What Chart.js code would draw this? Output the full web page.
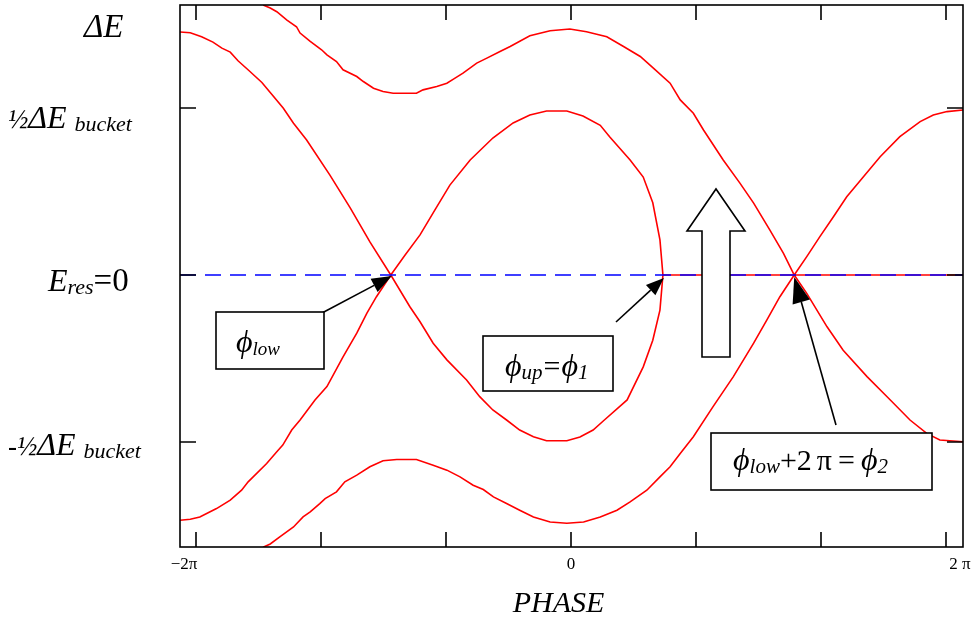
<!DOCTYPE html>
<html>
<head>
<meta charset="utf-8">
<script src="https://cdn.jsdelivr.net/npm/chart.js@4"></script>
<style>
html, body { margin: 0; padding: 0; background: #fff; overflow: hidden; }
</style>
</head>
<body>
<canvas id="chart" width="978" height="618"></canvas>
<script>
const PI = Math.PI;

// axis ranges: phase in radians, energy offset in units of ΔE_bucket
const phaseMin = -6.552, phaseMax = 6.568;
const dEMin = -0.814, dEMax = 0.808;

const xTicks = [-2 * PI, -4 * PI / 3, -2 * PI / 3, 0, 2 * PI / 3, 4 * PI / 3, 2 * PI];
const xTickLabels = ['−2π', '', '', '0', '', '', '2 π'];
const yTicks = [0.5, 0, -0.5];

// separatrix loop through phi_low, closing at phi_up
const loopPhase = [-6.55, -6.38, -6.19, -6.00, -5.85, -5.71, -5.58, -5.38, -5.18, -5.04, -4.82, -4.65, -4.43, -4.04, -3.70, -3.37, -3.02, -2.70, -2.53, -2.31, -2.08, -1.75, -1.53, -1.31, -1.08, -0.86, -0.63, -0.41, -0.07, 0.15, 0.37, 0.54, 0.94, 1.21, 1.37, 1.49, 1.54, 1.49, 1.37, 1.21, 0.99, 0.65, 0.49, 0.20, -0.07, -0.41, -0.69, -0.97, -1.31, -1.69, -2.03, -2.28, -2.53, -2.78, -3.02, -3.26, -3.42, -3.59, -3.82, -4.09, -4.29, -4.54, -4.68, -4.83, -4.93, -5.10, -5.41, -5.52, -5.71, -5.94, -6.22, -6.38, -6.55];
const loopDE = [0.727, 0.725, 0.713, 0.697, 0.679, 0.667, 0.641, 0.609, 0.576, 0.546, 0.499, 0.454, 0.404, 0.299, 0.201, 0.099, 0, -0.095, -0.140, -0.204, -0.254, -0.314, -0.364, -0.404, -0.434, -0.464, -0.484, -0.496, -0.496, -0.485, -0.464, -0.437, -0.374, -0.275, -0.195, -0.105, 0, 0.105, 0.216, 0.293, 0.344, 0.413, 0.448, 0.476, 0.491, 0.491, 0.479, 0.455, 0.410, 0.344, 0.269, 0.195, 0.120, 0.060, 0, -0.065, -0.114, -0.174, -0.245, -0.334, -0.374, -0.434, -0.464, -0.509, -0.529, -0.564, -0.619, -0.644, -0.674, -0.699, -0.724, -0.731, -0.734];

// outer upper trajectory
const upperPhase = [-5.16, -5.04, -4.93, -4.76, -4.60, -4.54, -4.37, -4.18, -4.09, -3.93, -3.82, -3.59, -3.48, -3.31, -3.15, -2.98, -2.59, -2.48, -2.25, -2.08, -1.97, -1.81, -1.58, -1.41, -1.19, -1.02, -0.69, -0.35, -0.02, 0.26, 0.60, 0.88, 1.16, 1.38, 1.66, 1.83, 2.05, 2.22, 2.33, 2.55, 2.83, 3.06, 3.33, 3.56, 3.74, 3.95, 4.29, 4.56, 4.96, 5.35, 5.68, 5.96, 6.18, 6.57, 6.80];
const upperDE = [0.808, 0.799, 0.788, 0.763, 0.743, 0.724, 0.699, 0.674, 0.659, 0.639, 0.614, 0.594, 0.579, 0.559, 0.549, 0.544, 0.544, 0.554, 0.564, 0.574, 0.586, 0.604, 0.634, 0.649, 0.669, 0.684, 0.716, 0.731, 0.736, 0.728, 0.713, 0.684, 0.654, 0.619, 0.574, 0.524, 0.484, 0.434, 0.404, 0.344, 0.275, 0.215, 0.135, 0.065, 0, -0.055, -0.155, -0.225, -0.304, -0.374, -0.434, -0.474, -0.494, -0.499, -0.492];

// outer lower trajectory
const lowerPhase = [-5.16, -5.04, -4.88, -4.65, -4.49, -4.37, -4.21, -4.12, -3.93, -3.79, -3.59, -3.37, -3.15, -2.92, -2.59, -2.31, -2.08, -1.86, -1.64, -1.47, -1.30, -1.08, -0.86, -0.63, -0.35, -0.07, 0.21, 0.49, 0.77, 0.99, 1.27, 1.49, 1.66, 1.83, 2.05, 2.38, 2.72, 3.06, 3.28, 3.50, 3.74, 3.95, 4.17, 4.40, 4.62, 4.90, 5.18, 5.51, 5.85, 6.07, 6.30, 6.57, 6.80];
const lowerDE = [-0.815, -0.805, -0.784, -0.754, -0.724, -0.709, -0.684, -0.669, -0.649, -0.619, -0.599, -0.574, -0.556, -0.552, -0.552, -0.569, -0.584, -0.604, -0.629, -0.642, -0.664, -0.684, -0.704, -0.724, -0.739, -0.743, -0.739, -0.724, -0.704, -0.679, -0.644, -0.604, -0.574, -0.534, -0.484, -0.394, -0.304, -0.204, -0.135, -0.065, 0, 0.055, 0.115, 0.175, 0.234, 0.294, 0.354, 0.414, 0.459, 0.479, 0.489, 0.494, 0.484];

// flat red segment on E_res from phi_up to the right edge
const flatPhase = [1.54, 6.57];
const flatDE = [0, 0];

// dashed E_res = 0 reference
const resPhase = [phaseMin, phaseMax];
const resDE = [0, 0];

// marked phases (arrow targets)
const phiLow = -3.02, phiUp = 1.54, phi2 = 3.74;

const pts = (xs, ys) => xs.map((x, i) => ({ x: x, y: ys[i] }));

const SERIF = "'Liberation Serif', 'DejaVu Serif', serif";

// draw a run of text pieces with mixed fonts
function textRun(ctx, x, y, parts) {
    parts.forEach(p => {
        ctx.font = p.f;
        ctx.fillText(p.t, x, y + (p.dy || 0));
        x += ctx.measureText(p.t).width + (p.gap || 0);
    });
    return x;
}

function arrow(ctx, x0, y0, x1, y1, len, w) {
    const a = Math.atan2(y1 - y0, x1 - x0);
    const bx = x1 - len * Math.cos(a), by = y1 - len * Math.sin(a);
    ctx.beginPath();
    ctx.moveTo(x0, y0);
    ctx.lineTo(bx, by);
    ctx.stroke();
    ctx.beginPath();
    ctx.moveTo(x1, y1);
    ctx.lineTo(bx + w / 2 * Math.sin(a), by - w / 2 * Math.cos(a));
    ctx.lineTo(bx - w / 2 * Math.sin(a), by + w / 2 * Math.cos(a));
    ctx.closePath();
    ctx.fill();
}

function box(ctx, l, t, r, b) {
    ctx.fillStyle = '#fff';
    ctx.fillRect(l, t, r - l, b - t);
    ctx.strokeRect(l, t, r - l, b - t);
    ctx.fillStyle = '#000';
}

const decor = {
    id: 'decor',
    afterDatasetsDraw(chart) {
        const { ctx, chartArea: a, scales: { x, y } } = chart;
        ctx.save();
        ctx.strokeStyle = '#000';
        ctx.fillStyle = '#000';
        ctx.lineWidth = 1.6;

        // frame + ticks
        ctx.strokeRect(a.left, a.top, a.right - a.left, a.bottom - a.top);
        ctx.beginPath();
        xTicks.forEach(v => {
            const px = Math.round(x.getPixelForValue(v));
            ctx.moveTo(px, a.top); ctx.lineTo(px, a.top + 15);
            ctx.moveTo(px, a.bottom); ctx.lineTo(px, a.bottom - 15);
        });
        yTicks.forEach(v => {
            const py = Math.round(y.getPixelForValue(v));
            ctx.moveTo(a.left, py); ctx.lineTo(a.left + 16, py);
            ctx.moveTo(a.right, py); ctx.lineTo(a.right - 16, py);
        });
        ctx.stroke();

        // x tick labels
        ctx.font = '17px ' + SERIF;
        ctx.textAlign = 'center';
        ctx.textBaseline = 'alphabetic';
        xTicks.forEach((v, i) => {
            if (!xTickLabels[i]) return;
            let px = x.getPixelForValue(v);
            if (i === 0) px -= 12;
            if (i === xTicks.length - 1) px += 14;
            ctx.fillText(xTickLabels[i], px, 569);
        });
        ctx.font = 'italic 30px ' + SERIF;
        ctx.fillText('PHASE', (a.left + a.right) / 2 - 13, 612);

        // y labels
        ctx.textAlign = 'left';
        const it = s => 'italic ' + s + 'px ' + SERIF;
        const up = s => s + 'px ' + SERIF;
        textRun(ctx, 84, 37, [{ t: 'ΔE', f: it(33) }]);
        textRun(ctx, 8, 128, [{ t: '½', f: it(27) }, { t: 'ΔE', f: it(32), gap: 8 }, { t: 'bucket', f: it(22), dy: 3 }]);
        textRun(ctx, 48, 291, [{ t: 'E', f: it(32) }, { t: 'res', f: it(22), dy: 3 }, { t: '=0', f: up(33) }]);
        textRun(ctx, 8, 455, [{ t: '-½', f: it(27) }, { t: 'ΔE', f: it(32), gap: 8 }, { t: 'bucket', f: it(22), dy: 3 }]);

        // annotation arrows
        const y0 = y.getPixelForValue(0);
        arrow(ctx, 322, 313, x.getPixelForValue(phiLow) + 1, y0 + 1, 20, 15);
        arrow(ctx, 616, 322, x.getPixelForValue(phiUp) + 1, y0 + 3, 18, 14);
        arrow(ctx, 836, 425, x.getPixelForValue(phi2), y0 + 2, 26, 18);

        // hollow up arrow
        ctx.beginPath();
        ctx.moveTo(702, 357); ctx.lineTo(702, 231); ctx.lineTo(687, 231);
        ctx.lineTo(716, 189); ctx.lineTo(745, 231); ctx.lineTo(730, 231);
        ctx.lineTo(730, 357); ctx.closePath();
        ctx.fillStyle = '#fff';
        ctx.fill();
        ctx.stroke();
        ctx.fillStyle = '#000';

        // label boxes
        box(ctx, 216, 312, 324, 369);
        textRun(ctx, 236, 352, [{ t: 'ϕ', f: it(32) }, { t: 'low', f: it(19), dy: 3 }]);
        box(ctx, 483, 336, 613, 391);
        textRun(ctx, 505, 376, [{ t: 'ϕ', f: it(32) }, { t: 'up', f: it(21), dy: 3, gap: 1 }, { t: '=', f: up(30), gap: 1 }, { t: 'ϕ', f: it(32) }, { t: '1', f: it(21), dy: 3 }]);
        box(ctx, 711, 433, 932, 490);
        textRun(ctx, 733, 470, [{ t: 'ϕ', f: it(32) }, { t: 'low', f: it(21), dy: 3 }, { t: '+2', f: up(30), gap: 5 }, { t: 'π', f: up(30), gap: 6 }, { t: '=', f: up(30), gap: 6 }, { t: 'ϕ', f: it(32) }, { t: '2', f: it(21), dy: 3 }]);

        ctx.restore();
    }
};

const redLine = { borderColor: '#ff0000', borderWidth: 1.6, pointRadius: 0, showLine: true, tension: 0, fill: false, order: 1, clip: { left: 0, top: 0, right: 15, bottom: 0 } };

new Chart(document.getElementById('chart'), {
    type: 'scatter',
    data: {
        datasets: [
            { label: 'E_res', data: pts(resPhase, resDE), borderColor: '#0000ff', borderWidth: 1.6, borderDash: [16, 9], pointRadius: 0, showLine: true, order: 0 },
            Object.assign({ label: 'loop', data: pts(loopPhase, loopDE) }, redLine),
            Object.assign({ label: 'upper', data: pts(upperPhase, upperDE) }, redLine),
            Object.assign({ label: 'lower', data: pts(lowerPhase, lowerDE) }, redLine),
            Object.assign({ label: 'flat', data: pts(flatPhase, flatDE) }, redLine)
        ]
    },
    options: {
        responsive: false,
        devicePixelRatio: 1,
        animation: false,
        layout: { padding: { left: 180, right: 15, top: 5, bottom: 71 } },
        plugins: { legend: { display: false }, tooltip: { enabled: false } },
        scales: {
            x: { type: 'linear', min: phaseMin, max: phaseMax, display: false },
            y: { type: 'linear', min: dEMin, max: dEMax, display: false }
        }
    },
    plugins: [decor]
});
</script>
</body>
</html>
